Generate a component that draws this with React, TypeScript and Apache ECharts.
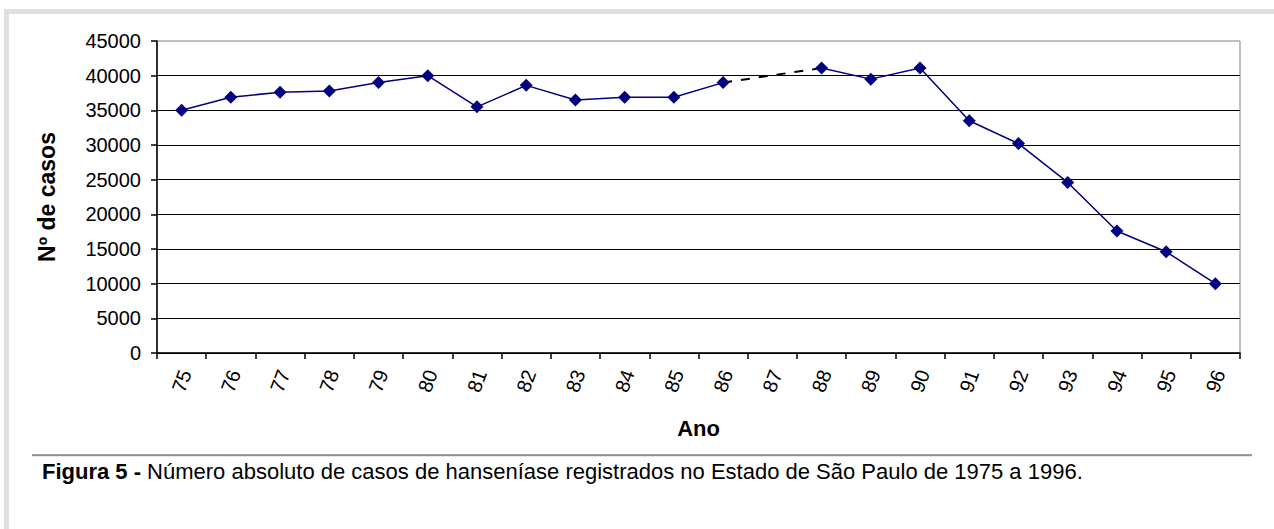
import React, { useEffect, useRef } from "react";
import * as echarts from "echarts";

const years: string[] = [
  "75", "76", "77", "78", "79", "80", "81", "82", "83", "84", "85",
  "86", "87", "88", "89", "90", "91", "92", "93", "94", "95", "96",
];

// Nº de casos (1987 not reported)
const cases: (number | null)[] = [
  35000, 36900, 37600, 37800, 39000, 40000, 35500, 38600, 36500, 36900, 36900,
  39000, null, 41100, 39500, 41100, 33500, 30200, 24600, 17600, 14600, 10000,
];

// dashed bridge over the missing year (86 -> 88)
const bridge: (number | null)[] = [
  null, null, null, null, null, null, null, null, null, null, null,
  39000, null, 41100, null, null, null, null, null, null, null, null,
];

const yTicks = { min: 0, max: 45000, interval: 5000 };

const FONT = "'Liberation Sans', Arial, Helvetica, sans-serif";

export default function App() {
  const ref = useRef<HTMLDivElement>(null);

  useEffect(() => {
    if (!ref.current) return;
    const chart = echarts.init(ref.current, null, { renderer: "svg" });
    chart.setOption({
      animation: false,
      backgroundColor: "#ffffff",
      textStyle: { fontFamily: FONT },
      grid: {
        left: 157,
        right: 34,
        top: 41,
        bottom: 176,
        show: true,
        borderColor: "#808080",
        borderWidth: 1,
        backgroundColor: "transparent",
      },
      xAxis: {
        type: "category",
        data: years,
        boundaryGap: true,
        name: "Ano",
        nameLocation: "middle",
        nameGap: 64,
        nameTextStyle: { fontFamily: FONT, fontSize: 22, fontWeight: "bold", color: "#000" },
        axisLine: { show: true, lineStyle: { color: "#000", width: 1.5 } },
        axisTick: { show: true, length: 6, inside: false, alignWithLabel: false, lineStyle: { color: "#000", width: 1.5 } },
        axisLabel: {
          rotate: 70,
          align: "center",
          verticalAlign: "middle",
          margin: 28,
          fontFamily: FONT,
          fontSize: 20,
          color: "#000",
          interval: 0,
        },
        splitLine: { show: false },
      },
      yAxis: {
        type: "value",
        min: yTicks.min,
        max: yTicks.max,
        interval: yTicks.interval,
        name: "Nº de casos",
        nameLocation: "middle",
        nameRotate: 90,
        nameGap: 99,
        nameTextStyle: { fontFamily: FONT, fontSize: 23, fontWeight: "bold", color: "#000" },
        axisLine: { show: true, lineStyle: { color: "#000", width: 1.5 } },
        axisTick: { show: true, length: 6, lineStyle: { color: "#000", width: 1.5 } },
        axisLabel: {
          margin: 16,
          fontFamily: FONT,
          fontSize: 20,
          color: "#000",
          formatter: (v: number) => String(v),
        },
        splitLine: { show: true, showMaxLine: false, lineStyle: { color: "#000", width: 1.2 } },
      },
      series: [
        {
          type: "line",
          data: bridge,
          connectNulls: true,
          showSymbol: false,
          symbol: "none",
          lineStyle: { color: "#000", width: 2, type: [9, 9] },
          z: 2,
          silent: true,
        },
        {
          type: "line",
          data: cases,
          connectNulls: false,
          symbol: "diamond",
          symbolSize: 13,
          itemStyle: { color: "#000080" },
          lineStyle: { color: "#000080", width: 1.5 },
          z: 3,
        },
      ],
      graphic: [
        { type: "rect", shape: { x: 4, y: 9, width: 1270, height: 5 }, style: { fill: "#e0e0e0" }, silent: true },
        { type: "rect", shape: { x: 4, y: 9, width: 5, height: 520 }, style: { fill: "#e0e0e0" }, silent: true },
        { type: "line", shape: { x1: 32, y1: 456, x2: 1252, y2: 456 }, style: { stroke: "#cfcfcf", lineWidth: 1 }, silent: true },
        { type: "line", shape: { x1: 32, y1: 455, x2: 1252, y2: 455 }, style: { stroke: "#404040", lineWidth: 1 }, silent: true },
        {
          type: "text",
          left: 42,
          top: 460,
          style: {
            text: "{b|Figura 5 -} Número absoluto de casos de hanseníase registrados no Estado de São Paulo de 1975 a 1996.",
            fontFamily: FONT,
            fontSize: 22,
            fill: "#000",
            rich: {
              b: { fontFamily: FONT, fontSize: 22, fontWeight: "bold", fill: "#000" },
            },
          },
          silent: true,
        },
      ],
    });
    return () => chart.dispose();
  }, []);

  return (
    <div style={{ position: "fixed", left: 0, top: 0, width: 1274, height: 529, background: "#fff" }}>
      <div ref={ref} style={{ width: 1274, height: 529 }} />
    </div>
  );
}
